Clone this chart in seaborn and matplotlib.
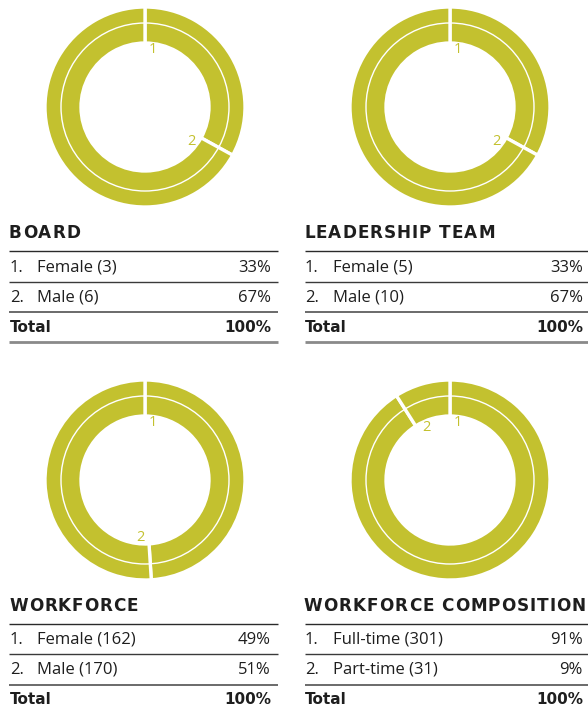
import math
import matplotlib
matplotlib.use("Agg")
import matplotlib.pyplot as plt
import seaborn as sns

# Panel data
titles = ["BOARD", "LEADERSHIP TEAM", "WORKFORCE", "WORKFORCE COMPOSITION"]
categories = [
    ["Female", "Male"],
    ["Female", "Male"],
    ["Female", "Male"],
    ["Full-time", "Part-time"],
]
counts = [
    [3, 6],
    [5, 10],
    [162, 170],
    [301, 31],
]
percents = [
    [33, 67],
    [33, 67],
    [49, 51],
    [91, 9],
]
total_label = "Total"
total_value = "100%"

sns.set_theme(style="white")
plt.rcParams["font.family"] = ["Open Sans", "DejaVu Sans"]
BOLD_FAMILY = ["DejaVu Sans"]

OLIVE = "#c3c12f"
TEXT = "#1e1e1e"

W, H = 588, 713
fig = plt.figure(figsize=(W / 100, H / 100), dpi=100)
fig.patch.set_facecolor("white")

# Panel anchors (pixel coordinates, origin top-left)
centers = [(145, 107), (450, 107), (145, 480), (450, 480)]
R = 100  # outer radius in px


def donut(cx, cy, vals):
    ax = fig.add_axes([(cx - R - 2) / W, (H - cy - R - 2) / H,
                       (2 * R + 4) / W, (2 * R + 4) / H])
    ax.pie(vals, radius=1.0, startangle=90, counterclock=False,
           colors=[OLIVE] * len(vals),
           wedgeprops=dict(width=0.36, edgecolor="white", linewidth=2.4))
    ax.add_patch(plt.Circle((0, 0), 0.84, fill=False, ec="white", lw=1.0))
    # segment numbers placed just after each segment start
    start = 0.0
    total = float(sum(vals))
    for i, v in enumerate(vals):
        ang = math.radians(start / total * 360 + 8)
        x, y = 0.58 * math.sin(ang), 0.58 * math.cos(ang)
        ax.text(x, y, str(i + 1), color=OLIVE, fontsize=10.5,
                ha="center", va="center")
        start += v
    s = (R + 2) / R
    ax.set_xlim(-s, s)
    ax.set_ylim(-s, s)
    ax.set_aspect("equal")
    ax.axis("off")


for (cx, cy), p in zip(centers, percents):
    donut(cx, cy, p)

# Overlay axes for the tables, in pixel units
tax = fig.add_axes([0, 0, 1, 1])
tax.set_xlim(0, W)
tax.set_ylim(H, 0)
tax.axis("off")
renderer = fig.canvas.get_renderer()


def spaced_title(x, y, s, tracking=1.0, **kw):
    """Draw a heading letter by letter with extra tracking (px)."""
    for ch in s:
        t = tax.text(x, y, ch, ha="left", va="center", **kw)
        bb = t.get_window_extent(renderer=renderer)
        x += bb.width + tracking


tables = [
    dict(x0=9, x1=278, xt=10, xn=37, xr=271, title_y=233, rows=[268, 298, 327],
         lines=[251, 282, 312, 342]),
    dict(x0=305, x1=588, xt=305, xn=333, xr=583, title_y=233, rows=[268, 298, 327],
         lines=[251, 282, 312, 342]),
    dict(x0=9, x1=278, xt=10, xn=37, xr=271, title_y=606, rows=[640, 670, 700],
         lines=[624, 654, 685]),
    dict(x0=305, x1=588, xt=305, xn=333, xr=583, title_y=606, rows=[640, 670, 700],
         lines=[624, 654, 685]),
]
line_styles = [("#2a2a2a", 1.0), ("#3a3a3a", 1.0), ("#6a6a6a", 1.4), ("#8a8a8a", 2.0)]

for t, title, cats, cnts, pcts in zip(tables, titles, categories, counts, percents):
    spaced_title(t["xt"] - 1, t["title_y"], title, fontsize=12.2,
                 fontweight="bold", color=TEXT, family=BOLD_FAMILY)
    for j, (c, n, pc) in enumerate(zip(cats, cnts, pcts)):
        y = t["rows"][j]
        tax.text(t["xt"], y, f"{j + 1}.", fontsize=12, color=TEXT, ha="left", va="center")
        tax.text(t["xn"], y, f"{c} ({n})", fontsize=12, color=TEXT, ha="left", va="center")
        tax.text(t["xr"], y, f"{pc}%", fontsize=12, color=TEXT, ha="right", va="center")
    yt = t["rows"][2]
    tax.text(t["xt"], yt, total_label, fontsize=11, fontweight="bold", color=TEXT,
             ha="left", va="center", family=BOLD_FAMILY)
    tax.text(t["xr"], yt, total_value, fontsize=11, fontweight="bold", color=TEXT,
             ha="right", va="center", family=BOLD_FAMILY)
    for ly, (lc, lw) in zip(t["lines"], line_styles):
        tax.plot([t["x0"], t["x1"]], [ly, ly], color=lc, lw=lw, solid_capstyle="butt")

fig.savefig("out.png", dpi=100, facecolor="white")
